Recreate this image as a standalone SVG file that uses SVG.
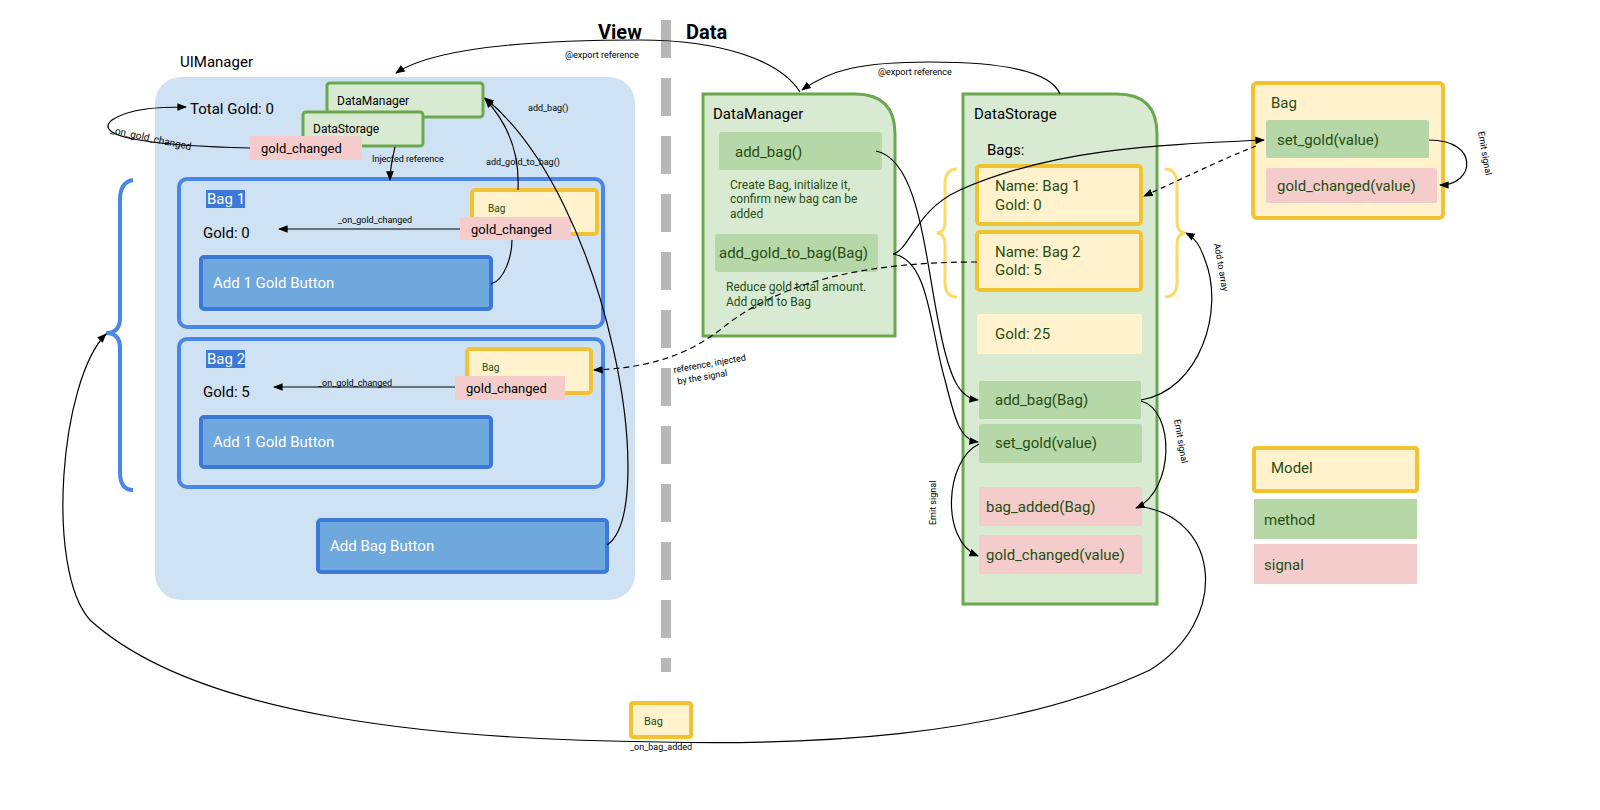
<svg xmlns="http://www.w3.org/2000/svg" width="1600" height="810" viewBox="0 0 1600 810">
<defs>
<marker id="ar" viewBox="0 0 10 10" refX="9" refY="5" markerWidth="8" markerHeight="8" orient="auto-start-reverse"><path d="M0,1 L10,5 L0,9 z" fill="#000"/></marker>
<style>
text{font-family:Roboto,"Liberation Sans",sans-serif;}
.t{font-size:15px;fill:#000}
.g{font-size:15px;fill:#274e13}
.s{font-size:10px;fill:#000}
.d{font-size:12px;fill:#274e13}
.w{font-size:15px;fill:#fff}
.grp{fill:#d9ead3;stroke:#6aa84f;stroke-width:3}
.meth{fill:#b6d7a8}
.sig{fill:#f4cccc}
.mod{fill:#fff2cc;stroke:#f1c232;stroke-width:4}
.btn{fill:#6fa8dc;stroke:#3c78d8;stroke-width:4}
.bag{fill:none;stroke:#4a86e8;stroke-width:4}
.c{fill:none;stroke:#000;stroke-width:1.2}
</style>
</defs>
<rect width="1600" height="810" fill="#fff"/>
<line x1="666" y1="20" x2="666" y2="672" stroke="#b7b7b7" stroke-width="10" stroke-dasharray="38 20"/>
<text x="598" y="39" style="font-size:20px;font-weight:bold">View</text>
<text x="686" y="39" style="font-size:20px;font-weight:bold">Data</text>

<g id="uimanager">
<text x="180" y="67" class="t">UIManager</text>
<rect x="155" y="77" width="480" height="523" rx="26" fill="#cfe2f3"/>
<text x="190" y="114" class="t">Total Gold: 0</text>
</g>
<g id="ui-datamanager"><rect x="327" y="83" width="156" height="34" rx="3" class="grp"/><text x="337" y="105" style="font-size:12px">DataManager</text></g>
<g id="ui-datastorage"><rect x="303" y="112" width="120" height="34" rx="3" class="grp"/><text x="313" y="133" style="font-size:12px">DataStorage</text></g>
<g id="ui-gold-changed"><rect x="250" y="136" width="112" height="24" class="sig"/><text x="261" y="153" style="font-size:13px">gold_changed</text></g>

<g id="bag1">
<rect x="179" y="179" width="424" height="148" rx="8" class="bag"/>
<rect x="206" y="190" width="39" height="18" fill="#3c78d8"/><text x="207" y="204" class="w">Bag 1</text>
<text x="203" y="238" class="t">Gold: 0</text>
</g>
<g id="bag1-model"><rect x="472" y="190" width="125" height="44" rx="3" class="mod"/><text x="488" y="212" style="font-size:10px;fill:#274e13">Bag</text></g>
<g id="bag1-signal"><rect x="460" y="217" width="111" height="23" class="sig"/><text x="471" y="234" style="font-size:13px">gold_changed</text></g>
<g id="bag1-button"><rect x="201" y="257" width="290" height="52" rx="3" class="btn"/><text x="213" y="288" class="w">Add 1 Gold Button</text></g>

<g id="bag2">
<rect x="179" y="339" width="424" height="148" rx="8" class="bag"/>
<rect x="206" y="350" width="39" height="18" fill="#3c78d8"/><text x="207" y="364" class="w">Bag 2</text>
<text x="203" y="397" class="t">Gold: 5</text>
</g>
<g id="bag2-model"><rect x="467" y="349" width="124" height="44" rx="3" class="mod"/><text x="482" y="371" style="font-size:10px;fill:#274e13">Bag</text></g>
<g id="bag2-signal"><rect x="455" y="376" width="110" height="24" class="sig"/><text x="466" y="393" style="font-size:13px">gold_changed</text></g>
<g id="bag2-button"><rect x="201" y="417" width="290" height="50" rx="3" class="btn"/><text x="213" y="447" class="w">Add 1 Gold Button</text></g>
<g id="addbag-button"><rect x="318" y="520" width="289" height="52" rx="3" class="btn"/><text x="330" y="551" class="w">Add Bag Button</text></g>
<g id="bag-brace"><path d="M133,180 Q120,182 120,200 L120,318 Q120,333 106,333 Q120,333 120,348 L120,472 Q120,490 133,490" fill="none" stroke="#4a86e8" stroke-width="4"/></g>

<g id="datamanager">
<path d="M703,94 L855,94 Q895,94 895,134 L895,336 L703,336 Z" class="grp"/>
<text x="713" y="119" class="t">DataManager</text>
<rect x="719" y="132" width="163" height="38" rx="3" class="meth"/><text x="735" y="157" class="g">add_bag()</text>
<text class="d"><tspan x="730" y="189">Create Bag, initialize it,</tspan><tspan x="730" y="203">confirm new bag can be</tspan><tspan x="730" y="218">added</tspan></text>
<rect x="715" y="234" width="163" height="38" rx="3" class="meth"/><text x="719" y="258" class="g">add_gold_to_bag(Bag)</text>
<text class="d"><tspan x="726" y="291">Reduce gold total amount.</tspan><tspan x="726" y="306">Add gold to Bag</tspan></text>
</g>

<g id="datastorage">
<path d="M963,94 L1117,94 Q1157,94 1157,134 L1157,604 L963,604 Z" class="grp"/>
<text x="974" y="119" class="t">DataStorage</text>
<text x="987" y="155" class="t">Bags:</text>
<path d="M957,169 Q945,169 945,185 L945,222 Q945,232 937,233 Q945,234 945,244 L945,282 Q945,297 957,297" fill="none" stroke="#ffd966" stroke-width="3"/>
<path d="M1165,169 Q1177,169 1177,185 L1177,222 Q1177,232 1185,233 Q1177,234 1177,244 L1177,282 Q1177,297 1165,297" fill="none" stroke="#ffd966" stroke-width="3"/>
<rect x="977" y="166" width="164" height="58" rx="3" class="mod"/><text class="g"><tspan x="995" y="191">Name: Bag 1</tspan><tspan x="995" y="210">Gold: 0</tspan></text>
<rect x="977" y="232" width="164" height="58" rx="3" class="mod"/><text class="g"><tspan x="995" y="257">Name: Bag 2</tspan><tspan x="995" y="275">Gold: 5</tspan></text>
<rect x="977" y="314" width="165" height="40" rx="2" fill="#fff2cc"/><text x="995" y="339" class="g">Gold: 25</text>
<rect x="979" y="381" width="162" height="38" rx="2" class="meth"/><text x="995" y="405" class="g">add_bag(Bag)</text>
<rect x="979" y="424" width="163" height="39" rx="2" class="meth"/><text x="995" y="448" class="g">set_gold(value)</text>
<rect x="979" y="487" width="163" height="39" rx="2" class="sig"/><text x="986" y="512" class="g">bag_added(Bag)</text>
<rect x="979" y="535" width="163" height="39" rx="2" class="sig"/><text x="986" y="560" class="g">gold_changed(value)</text>
</g>

<g id="bag-class">
<rect x="1253" y="83" width="190" height="135" rx="4" class="mod"/>
<text x="1271" y="108" class="g">Bag</text>
<rect x="1266" y="120" width="163" height="38" rx="2" class="meth"/><text x="1277" y="145" class="g">set_gold(value)</text>
<rect x="1266" y="168" width="171" height="35" rx="2" class="sig"/><text x="1277" y="191" class="g">gold_changed(value)</text>
</g>

<g id="legend-model"><rect x="1254" y="448" width="163" height="43" rx="2" class="mod"/><text x="1271" y="473" class="g">Model</text></g>
<g id="legend-method"><rect x="1254" y="499" width="163" height="40" class="meth"/><text x="1264" y="525" class="g">method</text></g>
<g id="legend-signal"><rect x="1254" y="544" width="163" height="40" class="sig"/><text x="1264" y="570" class="g">signal</text></g>

<g id="bottom-bag"><rect x="631" y="703" width="60" height="34" rx="2" class="mod"/><text x="644" y="725" style="font-size:11px;fill:#274e13">Bag</text></g>

<g id="connectors">
<path class="c" d="M800,92 C780,60 720,40 640,40 C520,40 430,50 396,73" marker-end="url(#ar)"/>
<text x="565" y="58" class="s" style="font-size:9px">@export reference</text>
<path class="c" d="M1060,94 C1050,70 1000,62 930,62 C860,62 830,70 802,90" marker-end="url(#ar)"/>
<text x="878" y="75" class="s" style="font-size:9px">@export reference</text>
<path class="c" d="M250,148 C160,146 90,138 112,120 C130,108 160,107 186,107" marker-end="url(#ar)"/>
<text x="110" y="133" class="s" transform="rotate(12 110 133)">_on_gold_changed</text>
<path class="c" d="M395,147 C392,160 390,168 390,180" marker-end="url(#ar)"/>
<text x="372" y="162" class="s" style="font-size:9px">Injected  reference</text>
<path class="c" d="M518,190 C520,150 505,120 485,99" marker-end="url(#ar)"/>
<text x="486" y="165" class="s" style="font-size:9px">add_gold_to_bag()</text>
<path class="c" d="M607,545 C660,510 610,200 485,98" marker-end="url(#ar)"/>
<text x="528" y="111" class="s" style="font-size:9px">add_bag()</text>
<path class="c" d="M460,229 L279,229" marker-end="url(#ar)"/>
<text x="338" y="223" class="s" style="font-size:9px">_on_gold_changed</text>
<path class="c" d="M455,387 L274,387" marker-end="url(#ar)"/>
<text x="318" y="386" class="s" style="font-size:9px">_on_gold_changed</text>
<path class="c" d="M491,284 C505,280 512,255 512,240"/>
<path class="c" d="M876,151 C920,160 925,260 940,330 C950,380 960,398 978,400" marker-end="url(#ar)"/>
<path class="c" d="M893,254 C930,260 930,330 945,380 C955,420 960,440 978,442" marker-end="url(#ar)"/>
<path class="c" d="M893,254 C910,250 915,210 960,190 C1050,150 1150,145 1264,140" marker-end="url(#ar)"/>
<path class="c" d="M977,262 C870,262 780,280 720,330 C680,360 640,368 594,370" stroke-dasharray="6 4" marker-end="url(#ar)"/>
<text x="674" y="373" class="s" style="font-size:9px" transform="rotate(-10 674 373)"><tspan x="674" y="373">reference, injected</tspan><tspan x="676" y="385">by the signal</tspan></text>
<path class="c" d="M1256,146 C1220,160 1180,180 1144,196" stroke-dasharray="5 4" marker-end="url(#ar)"/>
<path class="c" d="M1429,140 C1480,140 1475,185 1440,185" marker-end="url(#ar)"/>
<text x="1478" y="132" class="s" style="font-size:9px" transform="rotate(80 1478 132)">Emit signal</text>
<path class="c" d="M1141,400 C1200,390 1225,310 1205,260 C1200,245 1195,238 1186,233" marker-end="url(#ar)"/>
<text x="1214" y="244" class="s" style="font-size:9px" transform="rotate(80 1214 244)">Add to array</text>
<path class="c" d="M1141,401 C1175,410 1175,490 1136,508" marker-end="url(#ar)"/>
<text x="1174" y="420" class="s" style="font-size:9px" transform="rotate(80 1174 420)">Emit signal</text>
<path class="c" d="M979,444 C945,460 940,540 978,556" marker-end="url(#ar)"/>
<text x="936" y="525" class="s" style="font-size:9px" transform="rotate(-90 936 525)">Emit signal</text>
<path class="c" d="M1143,507 C1220,520 1230,620 1150,670 C1000,740 800,745 660,742 C450,740 200,720 90,620 C45,570 60,380 106,334" marker-end="url(#ar)"/>
<text x="630" y="750" class="s" style="font-size:9px">_on_bag_added</text>
</g>
</svg>
